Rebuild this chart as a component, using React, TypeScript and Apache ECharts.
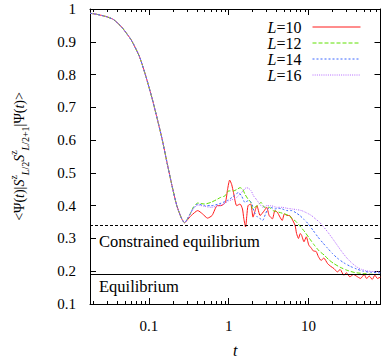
import React, { useEffect, useRef } from 'react';
import * as echarts from 'echarts';

const FONT = 'Liberation Serif';

const X_MIN = 0.0183;
const X_MAX = 80;

// Shared early-time decay (all L identical)
const commonT = [0.0183, 0.022, 0.026, 0.03, 0.036, 0.0456, 0.0603, 0.0762, 0.0919, 0.111, 0.128, 0.147, 0.169, 0.195, 0.224, 0.258, 0.28];
const commonV = [0.987, 0.984, 0.98, 0.976, 0.968, 0.945, 0.905, 0.855, 0.794, 0.723, 0.663, 0.602, 0.531, 0.461, 0.4, 0.36, 0.348];

const tL10 = [0.3, 0.34, 0.41, 0.47, 0.544, 0.62, 0.72, 0.8, 0.91, 0.97, 1.03, 1.09, 1.15, 1.26, 1.39, 1.49, 1.55, 1.63, 1.69, 1.75, 1.89, 2.02, 2.12, 2.26, 2.48, 2.8, 3.0, 3.22, 3.54, 3.8, 4.07, 4.4, 4.69, 5.0, 5.4, 5.8, 6.2, 6.8, 7.1, 7.5, 7.9, 8.2, 8.8, 9.4, 10.1, 10.9, 11.5, 12.5, 13.3, 14.4, 15.6, 17.4, 19, 20.9, 23, 25, 27.7, 30, 33, 36.7, 40, 45, 50, 53.5, 58, 63, 68, 73, 80];
const vL10 = [0.355, 0.37, 0.385, 0.375, 0.362, 0.37, 0.4, 0.4, 0.41, 0.45, 0.478, 0.465, 0.44, 0.4, 0.405, 0.39, 0.36, 0.335, 0.37, 0.4, 0.405, 0.365, 0.38, 0.4, 0.37, 0.385, 0.395, 0.37, 0.36, 0.385, 0.38, 0.365, 0.355, 0.375, 0.37, 0.37, 0.36, 0.34, 0.315, 0.3, 0.315, 0.31, 0.29, 0.305, 0.28, 0.27, 0.262, 0.26, 0.245, 0.233, 0.24, 0.223, 0.215, 0.208, 0.198, 0.205, 0.188, 0.195, 0.183, 0.19, 0.185, 0.178, 0.19, 0.178, 0.185, 0.175, 0.188, 0.178, 0.182];

const tL12 = [0.3, 0.33, 0.36, 0.41, 0.5, 0.6, 0.7, 0.79, 0.9, 1.0, 1.15, 1.28, 1.39, 1.5, 1.6, 1.75, 1.9, 2.0, 2.12, 2.3, 2.55, 2.8, 3.22, 3.6, 4.27, 5.0, 5.65, 6.3, 7.1, 8, 9, 10.3, 11.9, 13.6, 15.8, 18, 20.9, 25, 30.4, 38, 48.6, 60, 80];
const vL12 = [0.357, 0.375, 0.395, 0.408, 0.405, 0.41, 0.418, 0.425, 0.43, 0.445, 0.445, 0.45, 0.455, 0.45, 0.435, 0.42, 0.41, 0.39, 0.395, 0.4, 0.41, 0.395, 0.395, 0.385, 0.38, 0.375, 0.37, 0.36, 0.35, 0.335, 0.32, 0.3, 0.279, 0.262, 0.249, 0.235, 0.223, 0.212, 0.203, 0.196, 0.193, 0.191, 0.19];

const tL14 = [0.3, 0.33, 0.36, 0.41, 0.5, 0.6, 0.75, 0.95, 1.1, 1.33, 1.45, 1.6, 1.75, 1.92, 2.1, 2.3, 2.5, 2.67, 2.9, 3.1, 3.37, 3.8, 4.2, 4.69, 5.4, 6.2, 7.0, 7.8, 8.8, 9.9, 11.4, 13.1, 15.1, 17.4, 20, 23, 27.6, 33.4, 40, 48.6, 60, 80];
const vL14 = [0.357, 0.375, 0.392, 0.405, 0.4, 0.4, 0.405, 0.415, 0.425, 0.44, 0.43, 0.41, 0.415, 0.41, 0.38, 0.365, 0.36, 0.355, 0.375, 0.39, 0.395, 0.39, 0.392, 0.39, 0.385, 0.385, 0.378, 0.37, 0.358, 0.345, 0.325, 0.305, 0.287, 0.27, 0.254, 0.24, 0.226, 0.215, 0.207, 0.2, 0.197, 0.195];

const tL16 = [0.3, 0.33, 0.36, 0.41, 0.5, 0.6, 0.75, 0.87, 1.0, 1.1, 1.26, 1.45, 1.67, 1.8, 1.92, 2.05, 2.21, 2.45, 2.67, 3.0, 3.37, 4.0, 4.69, 5.4, 6.2, 7.1, 8.2, 9.5, 10.9, 12.2, 13.7, 15.4, 17.4, 20, 23, 26.5, 30.4, 35, 40.3, 46, 53.5, 65, 80];
const vL16 = [0.357, 0.375, 0.39, 0.402, 0.398, 0.395, 0.4, 0.405, 0.415, 0.418, 0.425, 0.44, 0.455, 0.452, 0.445, 0.43, 0.42, 0.405, 0.395, 0.4, 0.4, 0.395, 0.395, 0.392, 0.39, 0.388, 0.385, 0.378, 0.37, 0.36, 0.35, 0.336, 0.32, 0.3, 0.279, 0.258, 0.24, 0.225, 0.213, 0.206, 0.201, 0.199, 0.198];

const seriesNames = ['L=10', 'L=12', 'L=14', 'L=16'];
const seriesColors = ['#ff1a1a', '#5ee000', '#3a66ff', '#b468ff'];
const seriesDash: any[] = ['solid', [4, 2], [2, 2], [1, 1.2]];

const xMajorTicks = [0.1, 1, 10];
const xMinorTicks = [0.02, 0.03, 0.04, 0.05, 0.06, 0.07, 0.08, 0.09, 0.2, 0.3, 0.4, 0.5, 0.6, 0.7, 0.8, 0.9, 2, 3, 4, 5, 6, 7, 8, 9, 20, 30, 40, 50, 60, 70];

const constrainedLevel = 0.345;
const equilibriumLevel = 0.193;

function build(t: number[], v: number[]) {
  const pts = commonT.map((x, i) => [x, commonV[i]]);
  return pts.concat(t.map((x, i) => [x, v[i]]));
}

export default function App() {
  const ref = useRef<HTMLDivElement>(null);
  useEffect(() => {
    if (!ref.current) return;
    const chart = echarts.init(ref.current, undefined, { renderer: 'svg' });
    const tails = [[tL10, vL10], [tL12, vL12], [tL14, vL14], [tL16, vL16]];
    const black = '#000';
    const logAxis = (extra: any) => ({
      type: 'log',
      logBase: 10,
      min: X_MIN,
      max: X_MAX,
      gridIndex: 0,
      splitLine: { show: false },
      axisLabel: { show: false },
      axisLine: { show: false },
      ...extra,
    });
    const series: any[] = tails.map(([t, v], i) => ({
      name: seriesNames[i],
      type: 'line',
      data: build(t, v),
      symbol: 'none',
      showSymbol: false,
      smooth: 0.2,
      xAxisIndex: 0,
      yAxisIndex: 0,
      lineStyle: { color: seriesColors[i], width: 1, type: seriesDash[i] },
      itemStyle: { color: seriesColors[i] },
      z: 2 + i,
    }));
    series.push({
      name: 'levels',
      type: 'line',
      data: [],
      xAxisIndex: 0,
      yAxisIndex: 0,
      symbol: 'none',
      markLine: {
        silent: true,
        symbol: 'none',
        label: { show: false },
        data: [
          { yAxis: constrainedLevel, lineStyle: { color: black, width: 1.2, type: [3, 2] } },
          { yAxis: equilibriumLevel, lineStyle: { color: black, width: 1.2, type: 'solid' } },
        ],
      },
      z: 10,
    });
    chart.setOption({
      animation: false,
      textStyle: { fontFamily: FONT },
      grid: { left: 82.5, right: 1.5, top: 9, bottom: 57.3, containLabel: false },
      legend: {
        orient: 'vertical',
        align: 'right',
        right: 16,
        top: 14,
        itemWidth: 48,
        itemHeight: 14,
        itemGap: 0,
        selectedMode: false,
        data: seriesNames,
        itemStyle: { opacity: 0 },
        lineStyle: { width: 1 },
        formatter: (name: string) => `{i|L}=${name.split('=')[1]}`,
        textStyle: {
          fontFamily: FONT,
          fontSize: 16,
          color: black,
          lineHeight: 16,
          padding: [0, 6, 0, 0],
          rich: { i: { fontStyle: 'italic', fontFamily: FONT, fontSize: 16, lineHeight: 16, color: black } },
        },
      },
      xAxis: [
        logAxis({
          position: 'bottom',
          axisLine: { show: true, onZero: false, lineStyle: { color: black, width: 1 } },
          axisTick: { show: true, inside: true, length: 6, customValues: xMajorTicks, lineStyle: { color: black } },
          axisLabel: {
            show: true,
            customValues: xMajorTicks,
            formatter: (v: number) => String(+Number(v).toPrecision(3)),
            fontFamily: FONT,
            fontSize: 15,
            color: black,
            margin: 14,
          },
          name: 't',
          nameLocation: 'middle',
          nameGap: 38,
          nameTextStyle: { fontFamily: FONT, fontSize: 16, fontStyle: 'italic', color: black },
        }),
        logAxis({
          position: 'bottom',
          axisTick: { show: true, inside: true, length: 3, customValues: xMinorTicks, lineStyle: { color: black } },
        }),
        logAxis({
          position: 'top',
          axisLine: { show: true, onZero: false, lineStyle: { color: black, width: 1 } },
          axisTick: { show: true, inside: true, length: 6, customValues: xMajorTicks, lineStyle: { color: black } },
        }),
        logAxis({
          position: 'top',
          axisTick: { show: true, inside: true, length: 3, customValues: xMinorTicks, lineStyle: { color: black } },
        }),
      ],
      yAxis: [
        {
          type: 'value',
          min: 0.1,
          max: 1,
          interval: 0.1,
          position: 'left',
          splitLine: { show: false },
          axisLine: { show: true, onZero: false, lineStyle: { color: black, width: 1 } },
          axisTick: { show: true, inside: true, length: 6, lineStyle: { color: black } },
          axisLabel: {
            formatter: (v: number) => String(Math.round(v * 10) / 10),
            fontFamily: FONT,
            fontSize: 15,
            color: black,
            margin: 14,
          },
          name: '{n|<Ψ(}{i|t}{n|)|}{i|S}{sup|z}{subi|L}{sub|/2}{i|S}{sup|z}{subi|L}{sub|/2+1}{n||Ψ(}{i|t}{n|)>}',
          nameLocation: 'middle',
          nameRotate: 90,
          nameGap: 60,
          nameTextStyle: {
            fontFamily: FONT,
            fontSize: 14,
            color: black,
            rich: {
              n: { fontFamily: FONT, fontSize: 14, color: black, lineHeight: 22, verticalAlign: 'middle' },
              i: { fontFamily: FONT, fontSize: 14, fontStyle: 'italic', color: black, lineHeight: 22, verticalAlign: 'middle' },
              sup: { fontFamily: FONT, fontSize: 10, color: black, lineHeight: 12, verticalAlign: 'top' },
              sub: { fontFamily: FONT, fontSize: 10, color: black, lineHeight: 12, verticalAlign: 'bottom' },
              subi: { fontFamily: FONT, fontSize: 10, fontStyle: 'italic', color: black, lineHeight: 12, verticalAlign: 'bottom' },
            },
          },
        },
        {
          type: 'value',
          min: 0.1,
          max: 1,
          interval: 0.1,
          position: 'right',
          splitLine: { show: false },
          axisLine: { show: true, onZero: false, lineStyle: { color: black, width: 1 } },
          axisTick: { show: true, inside: true, length: 6, lineStyle: { color: black } },
          axisLabel: { show: false },
        },
      ],
      graphic: [
        {
          type: 'text',
          left: 99,
          top: 233,
          style: { text: 'Constrained equilibrium', fontFamily: FONT, fontSize: 16.5, fill: black },
          z: 20,
        },
        {
          type: 'text',
          left: 99,
          top: 278,
          style: { text: 'Equilibrium', fontFamily: FONT, fontSize: 16.5, fill: black },
          z: 20,
        },
      ],
      series,
    });
    return () => chart.dispose();
  }, []);
  return <div ref={ref} style={{ position: 'fixed', left: 0, top: 0, width: 382, height: 363, background: '#fff' }} />;
}
